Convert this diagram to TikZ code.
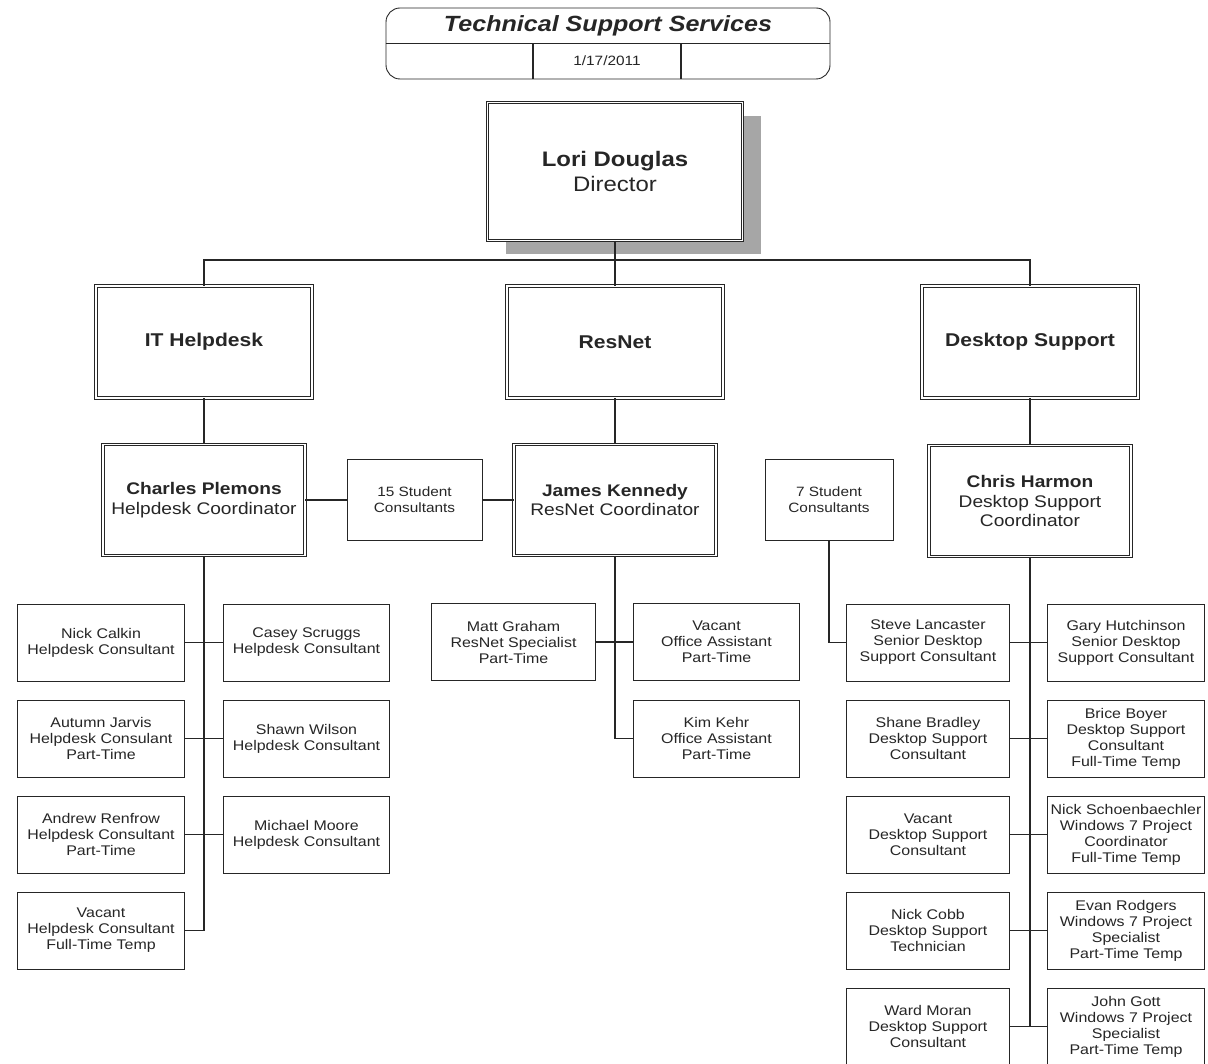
\documentclass[tikz,border=0pt]{standalone}
\usepackage{fontspec}
\setmainfont{Liberation Sans}[FakeStretch=1.14]
\usetikzlibrary{shadows}

\begin{document}
\begin{tikzpicture}[x=1pt, y=-1pt,
	line/.style={line width=1.1pt, draw=black!85},
	box/.style={draw=black!85, line width=0.9pt, fill=white, align=center, inner sep=1pt, text=black!85},
	dbox/.style={box, double, double distance=1.8pt, line width=0.8pt},
	staff/.style={box, minimum height=77pt, font=\fontsize{14}{16}\selectfont},
	pool/.style={box, minimum height=81pt, font=\fontsize{13.5}{16}\selectfont},
	dept/.style={dbox, minimum width=216pt, minimum height=112pt, font=\bfseries\fontsize{18.5}{22}\selectfont},
	lead/.style={dbox, minimum width=202pt, minimum height=111pt, font=\fontsize{16.8}{19.5}\selectfont}]
	\useasboundingbox (0,0) rectangle (1208,1064);
	\clip (0,0) rectangle (1208,1064);

	% Titulo
	\node [draw=black!85, line width=0.9pt, rounded corners=14pt, minimum width=444pt, minimum height=71pt] (head) at (608,43.5) {};
	\node [font=\bfseries\itshape\fontsize{22}{26}\selectfont, text=black!85] (headtxt) at (608,25.5) {Technical Support Services};
	\node [font=\fontsize{13.5}{16}\selectfont, text=black!85] (date) at (607,61) {1/17/2011};
	\draw [line] (head.west) -- (head.east);
	\draw [line] (533,43.5) -- (533,79);
	\draw [line] (681,43.5) -- (681,79);

	% Director
	\node [dbox, minimum width=255pt, minimum height=138pt, font=\fontsize{21}{25}\selectfont,
		drop shadow={shadow xshift=18pt, shadow yshift=-14pt, fill=black!35, opacity=1}] (lori) at (615,171.5) {\textbf{Lori Douglas}\\Director};

	% Areas
	\node [dept] (help) at (204,342) {IT Helpdesk};
	\node [dept] (resnet) at (615,342) {ResNet};
	\node [dept] (desk) at (1030,342) {Desktop Support};

	% Coordinadores
	\node [lead] (plemons) at (204,500) {\textbf{Charles Plemons}\\Helpdesk Coordinator};
	\node [lead] (kennedy) at (615,500) {\textbf{James Kennedy}\\ResNet Coordinator};
	\node [lead] (harmon) at (1030,501) {\textbf{Chris Harmon}\\Desktop Support\\Coordinator};

	% Estudiantes
	\node [pool, minimum width=135pt] (pool15) at (414.5,500) {15 Student\\Consultants};
	\node [pool, minimum width=128pt] (pool7) at (829,500) {7 Student\\Consultants};

	% Helpdesk
	\node [staff, minimum width=167pt] (calkin) at (101,642.5) {Nick Calkin\\Helpdesk Consultant};
	\node [staff, minimum width=166pt] (scruggs) at (306.5,642.5) {Casey Scruggs\\Helpdesk Consultant};
	\node [staff, minimum width=167pt] (jarvis) at (101,738.5) {Autumn Jarvis\\Helpdesk Consulant\\Part-Time};
	\node [staff, minimum width=166pt] (wilson) at (306.5,738.5) {Shawn Wilson\\Helpdesk Consultant};
	\node [staff, minimum width=167pt] (renfrow) at (101,834.5) {Andrew Renfrow\\Helpdesk Consultant\\Part-Time};
	\node [staff, minimum width=166pt] (moore) at (306.5,834.5) {Michael Moore\\Helpdesk Consultant};
	\node [staff, minimum width=167pt] (hdvacant) at (101,930.5) {Vacant\\Helpdesk Consultant\\Full-Time Temp};

	% ResNet
	\node [staff, minimum width=164pt] (graham) at (513.5,642) {Matt Graham\\ResNet Specialist\\Part-Time};
	\node [staff, minimum width=166pt] (oavacant) at (716.5,642) {Vacant\\Office Assistant\\Part-Time};
	\node [staff, minimum width=166pt] (kehr) at (716.5,738.5) {Kim Kehr\\Office Assistant\\Part-Time};

	% Desktop Support
	\node [staff, minimum width=163pt] (lancaster) at (928,642.5) {Steve Lancaster\\Senior Desktop\\Support Consultant};
	\node [staff, minimum width=163pt] (bradley) at (928,738.5) {Shane Bradley\\Desktop Support\\Consultant};
	\node [staff, minimum width=163pt] (dsvacant) at (928,834.5) {Vacant\\Desktop Support\\Consultant};
	\node [staff, minimum width=163pt] (cobb) at (928,930.5) {Nick Cobb\\Desktop Support\\Technician};
	\node [staff, minimum width=163pt] (moran) at (928,1026.5) {Ward Moran\\Desktop Support\\Consultant};
	\node [staff, minimum width=157pt] (hutchinson) at (1126,642.5) {Gary Hutchinson\\Senior Desktop\\Support Consultant};
	\node [staff, minimum width=157pt] (boyer) at (1126,738.5) {Brice Boyer\\Desktop Support\\Consultant\\Full-Time Temp};
	\node [staff, minimum width=157pt] (schoen) at (1126,834.5) {Nick Schoenbaechler\\Windows 7 Project\\Coordinator\\Full-Time Temp};
	\node [staff, minimum width=157pt] (rodgers) at (1126,930.5) {Evan Rodgers\\Windows 7 Project\\Specialist\\Part-Time Temp};
	\node [staff, minimum width=157pt] (gott) at (1126,1026.5) {John Gott\\Windows 7 Project\\Specialist\\Part-Time Temp};

	% Lineas
	\coordinate (bus) at (615,260);
	\draw [line] (lori.south) -- (resnet.north);
	\draw [line] (help.north) |- (bus) -| (desk.north);
	\draw [line] (help.south) -- (plemons.north);
	\draw [line] (resnet.south) -- (kennedy.north);
	\draw [line] (desk.south) -- (harmon.north);
	\draw [line] (plemons.east) -- (pool15.west);
	\draw [line] (pool15.east) -- (kennedy.west);
	\draw [line] (pool7.south) |- (lancaster.west);

	\draw [line] (plemons.south) |- (hdvacant.east);
	\draw [line] (calkin.east) -- (scruggs.west);
	\draw [line] (jarvis.east) -- (wilson.west);
	\draw [line] (renfrow.east) -- (moore.west);

	\draw [line] (kennedy.south) |- (kehr.west);
	\draw [line] (graham.east) -- (oavacant.west);

	\draw [line] (harmon.south) -- (harmon.south |- gott.west);
	\draw [line] (lancaster.east) -- (hutchinson.west);
	\draw [line] (bradley.east) -- (boyer.west);
	\draw [line] (dsvacant.east) -- (schoen.west);
	\draw [line] (cobb.east) -- (rodgers.west);
	\draw [line] (moran.east) -- (gott.west);
\end{tikzpicture}
\end{document}
